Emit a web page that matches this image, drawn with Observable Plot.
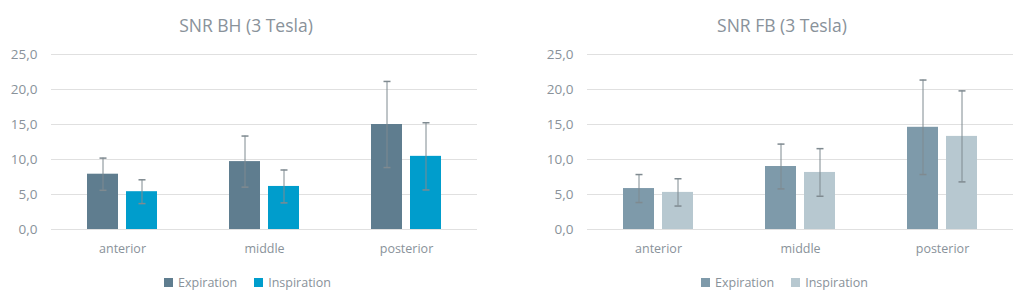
<!DOCTYPE html>
<html><head><meta charset="utf-8">
<script src="https://cdn.jsdelivr.net/npm/d3@7"></script>
<script src="https://cdn.jsdelivr.net/npm/@observablehq/plot@0.6"></script>
<style>
body{margin:0;background:#fff;font-family:"Open Sans",sans-serif;}
#wrap{position:relative;width:1029px;height:304px;overflow:hidden;}
.abs{position:absolute;}
.ttl{position:absolute;top:10px;font-size:17.5px;color:#89929a;white-space:nowrap;transform:translateX(-50%);line-height:30px;}
.lgbox{position:absolute;top:273px;height:18px;}
.lg-swatches{font-family:"Open Sans",sans-serif !important;font-size:12.5px !important;color:#89929a !important;margin:0 !important;}
.lg-swatches-wrap{min-height:18px !important;}
.lg-swatch > svg{margin-right:5px !important;}
.lg-swatches-wrap .lg-swatch{margin-right:17px !important;}
svg [aria-label^="y-axis"] text{font-size:13.5px !important;}
</style></head><body><div id="wrap"></div>
<script>
const categories = ["anterior", "middle", "posterior"];
const series = ["Expiration", "Inspiration"];
const yTicks = [0, 5, 10, 15, 20, 25];

// SNR BH (3 Tesla)
const bhExpiration = [7.9, 9.7, 15.0];
const bhExpirationErr = [2.3, 3.65, 6.15];
const bhInspiration = [5.4, 6.15, 10.45];
const bhInspirationErr = [1.7, 2.35, 4.8];

// SNR FB (3 Tesla)
const fbExpiration = [5.85, 9.0, 14.6];
const fbExpirationErr = [2.0, 3.2, 6.75];
const fbInspiration = [5.3, 8.15, 13.3];
const fbInspirationErr = [1.95, 3.4, 6.5];

const bhColors = ["#5f7d8f", "#009dcc"];
const fbColors = ["#7e9aaa", "#b7c8d0"];
const textColor = "#89929a";
const errColor = "#7f8a90";

const capSymbol = {draw(ctx) { ctx.moveTo(-3.5, 0); ctx.lineTo(3.5, 0); }};

function chart(exp, expErr, insp, inspErr, colors, width, ml, mr) {
  const data = categories.flatMap((c, i) => [
    {cat: c, s: series[0], v: exp[i], e: expErr[i]},
    {cat: c, s: series[1], v: insp[i], e: inspErr[i]}
  ]);
  return Plot.plot({
    width, height: 304, marginTop: 54, marginBottom: 75, marginLeft: ml, marginRight: mr,
    style: {fontFamily: "Open Sans", fontSize: "12.5px", color: textColor, background: "transparent", overflow: "visible"},
    fx: {domain: categories, padding: 0, label: null, axis: "bottom", tickSize: 0, tickPadding: 15},
    x: {domain: series, axis: null, paddingInner: 0.21, paddingOuter: 0.89},
    y: {domain: [0, 25], ticks: yTicks, tickFormat: d => d.toFixed(1).replace(".", ","), tickSize: 0, tickPadding: 14, label: null},
    color: {domain: series, range: colors},
    marks: [
      Plot.gridY(yTicks, {stroke: "#e0e0e0", strokeOpacity: 1}),
      Plot.barY(data, {fx: "cat", x: "s", y: "v", fill: "s"}),
      Plot.ruleX(data, {fx: "cat", x: "s", y1: d => d.v - d.e, y2: d => d.v + d.e, stroke: errColor, strokeWidth: 1}),
      Plot.dot(data, {fx: "cat", x: "s", y: d => d.v + d.e, symbol: capSymbol, stroke: errColor, fill: "none", r: 3}),
      Plot.dot(data, {fx: "cat", x: "s", y: d => d.v - d.e, symbol: capSymbol, stroke: errColor, fill: "none", r: 3})
    ]
  });
}

function legend(colors) {
  return Plot.legend({color: {domain: series, range: colors}, legend: "swatches", swatchSize: 9, className: "lg"});
}

const wrap = document.getElementById("wrap");
function place(el, left, top) {
  const d = document.createElement("div");
  d.className = "abs";
  d.style.left = left + "px";
  d.style.top = top + "px";
  d.appendChild(el);
  wrap.appendChild(d);
  return d;
}
place(chart(bhExpiration, bhExpirationErr, bhInspiration, bhInspirationErr, bhColors, 514, 50, 36), 0, 0);
place(chart(fbExpiration, fbExpirationErr, fbInspiration, fbInspirationErr, fbColors, 515, 73, 16), 514, 0);

function title(text, cx) {
  const t = document.createElement("div");
  t.className = "ttl";
  t.style.left = cx + "px";
  t.textContent = text;
  wrap.appendChild(t);
}
title("SNR BH (3 Tesla)", 246);
title("SNR FB (3 Tesla)", 782);

function legendBox(colors, left) {
  const b = document.createElement("div");
  b.className = "lgbox";
  b.style.left = left + "px";
  b.appendChild(legend(colors));
  wrap.appendChild(b);
}
legendBox(bhColors, 164);
legendBox(fbColors, 701);
</script></body></html>
